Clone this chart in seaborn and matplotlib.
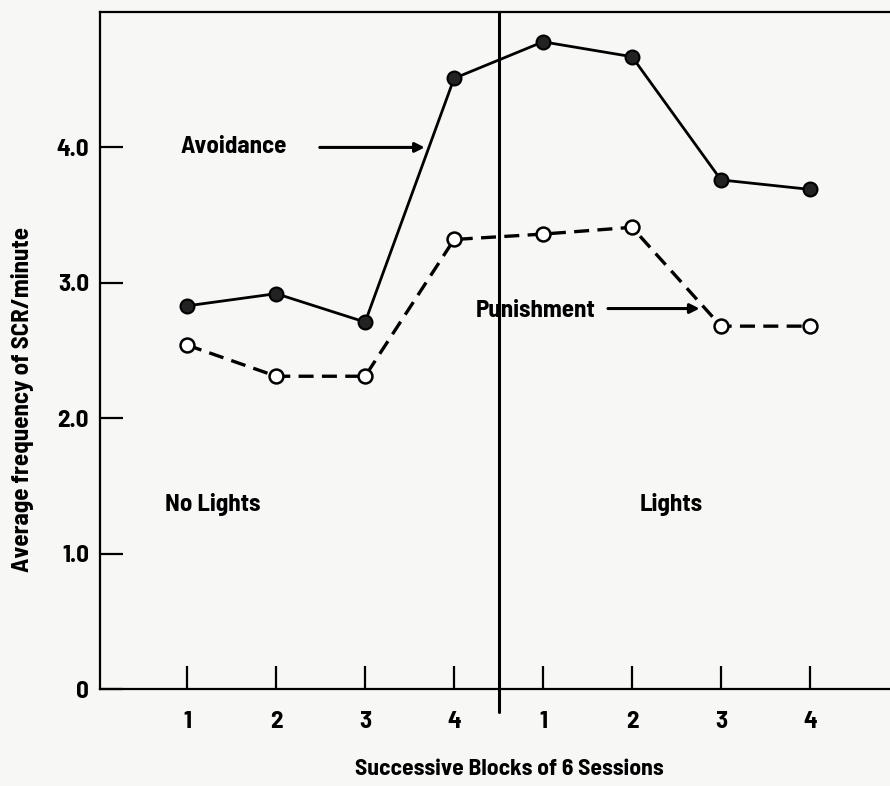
import matplotlib
matplotlib.use("Agg")
import matplotlib.pyplot as plt
import seaborn as sns
import pandas as pd

blocks = [1, 2, 3, 4, 5, 6, 7, 8]
block_labels = ["1", "2", "3", "4", "1", "2", "3", "4"]
avoidance = [2.83, 2.92, 2.71, 4.51, 4.78, 4.67, 3.76, 3.69]
punishment = [2.54, 2.31, 2.31, 3.32, 3.36, 3.41, 2.68, 2.68]
y_ticks = [0, 1.0, 2.0, 3.0, 4.0]
y_tick_labels = ["0", "1.0", "2.0", "3.0", "4.0"]

sns.set_style("ticks")
plt.rcParams['font.family'] = ['Barlow Semi Condensed', 'Barlow Condensed', 'DejaVu Sans']
plt.rcParams['font.weight'] = 'bold'
plt.rcParams['text.color'] = 'black'
plt.rcParams['axes.labelcolor'] = 'black'

bg = '#f7f7f6'
fs = 18
fig = plt.figure(figsize=(8.9, 7.86), dpi=100, facecolor=bg)
ax = fig.add_axes([0.1124, 0.1234, 0.8876, 0.8613])
ax.set_facecolor(bg)

df = pd.DataFrame({'block': blocks, 'avoidance': avoidance, 'punishment': punishment})

sns.lineplot(data=df, x='block', y='avoidance', ax=ax, color='black', lw=2.0,
             marker='o', markersize=10, markerfacecolor='#222222', markeredgecolor='black',
             markeredgewidth=1.5, zorder=3)
sns.lineplot(data=df, x='block', y='punishment', ax=ax, color='black', lw=2.4,
             dashes=(4.5, 2.5), marker='o', markersize=10, markerfacecolor='white',
             markeredgecolor='black', markeredgewidth=1.8, zorder=3)

ax.set_xlim(0.02, 8.9)
ax.set_ylim(0, 5.0)
ax.set_xticks(blocks)
ax.set_xticklabels(block_labels)
ax.set_yticks(y_ticks)
ax.set_yticklabels(y_tick_labels)

for s in ['left', 'bottom', 'top']:
    ax.spines[s].set_linewidth(1.6)
    ax.spines[s].set_color('black')
ax.spines['right'].set_visible(False)

ax.tick_params(axis='both', direction='in', length=16.5, width=1.6, labelsize=fs, colors='black')
ax.tick_params(axis='x', pad=16)
ax.tick_params(axis='y', pad=8)

# divider between No Lights / Lights
ax.axvline(4.5, ymin=-0.034, ymax=1, color='black', lw=2.2, clip_on=False)

ax.set_xlabel("Successive Blocks of 6 Sessions", fontsize=17, fontweight='bold')
ax.set_ylabel("Average frequency of SCR/minute", fontsize=18, fontweight='bold')
ax.xaxis.set_label_coords(0.518, -0.103)
ax.yaxis.set_label_coords(-0.083, 0.427)

arrow = dict(arrowstyle='-|>', color='black', lw=2.2, mutation_scale=14, shrinkA=0, shrinkB=0)
ax.text(0.92, 4.0, "Avoidance", fontsize=fs, fontweight='bold', va='center', ha='left')
ax.annotate("", xy=(3.67, 4.0), xytext=(2.49, 4.0), arrowprops=arrow)
ax.text(4.24, 2.79, "Punishment", fontsize=fs, fontweight='bold', va='center', ha='left')
ax.annotate("", xy=(6.76, 2.81), xytext=(5.73, 2.81), arrowprops=arrow)
ax.text(0.75, 1.36, "No Lights", fontsize=fs, fontweight='bold', va='center', ha='left')
ax.text(6.09, 1.36, "Lights", fontsize=fs, fontweight='bold', va='center', ha='left')

fig.savefig("out.png", dpi=100, facecolor=bg)
